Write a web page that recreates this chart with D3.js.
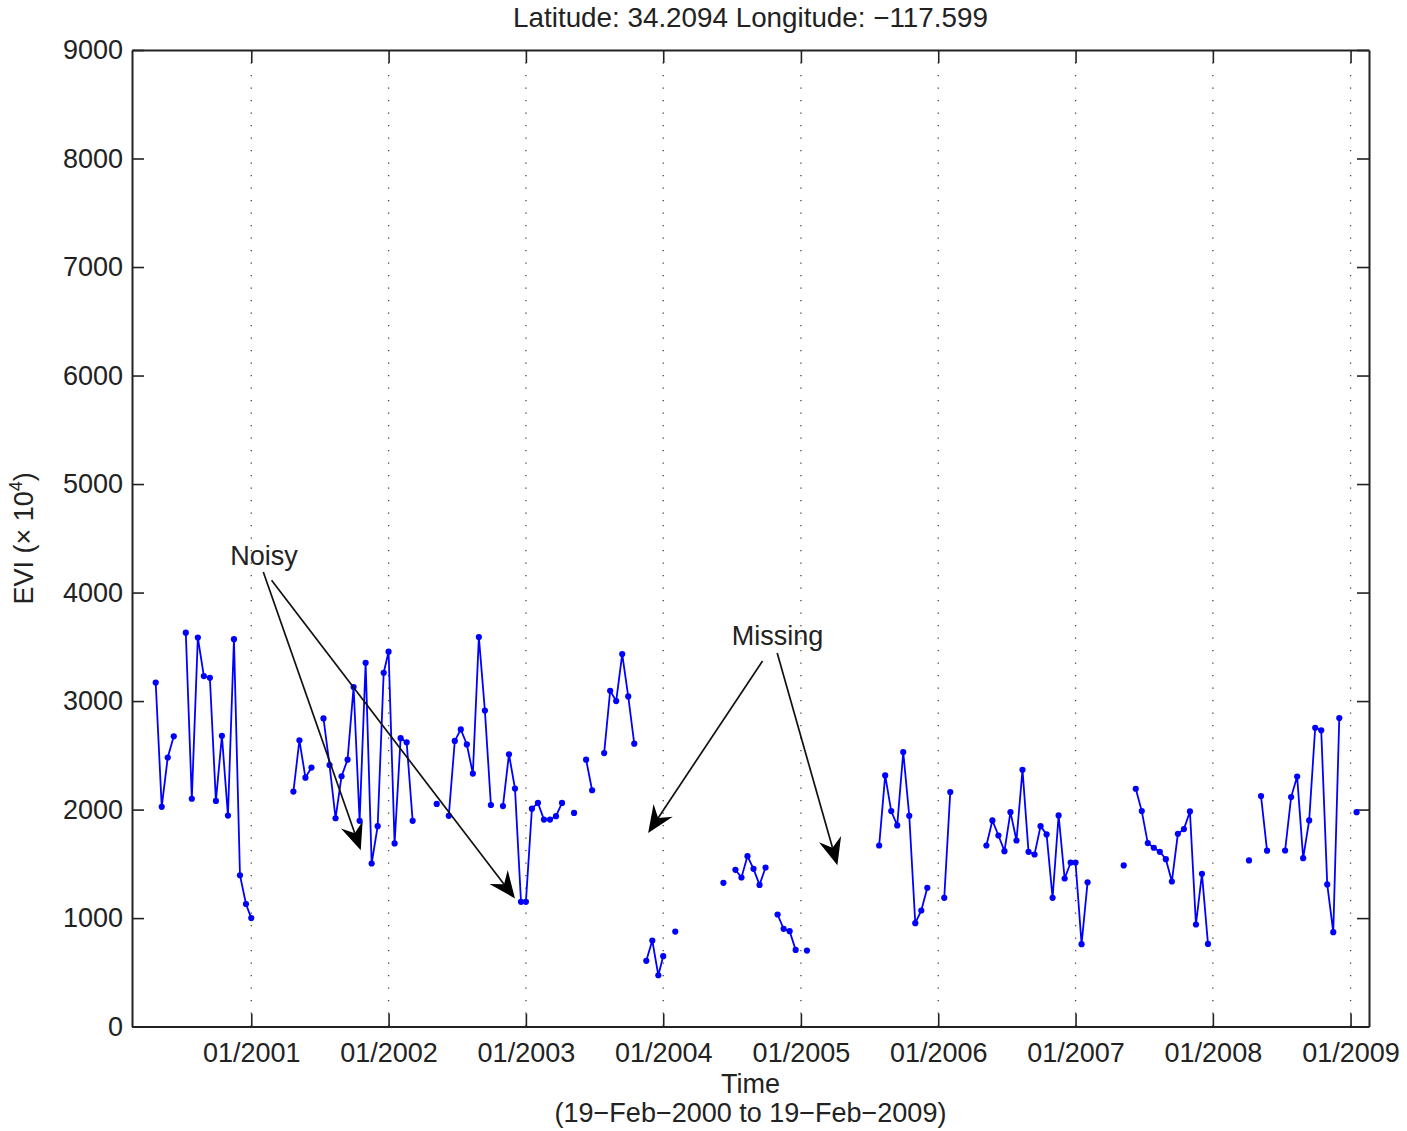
<!DOCTYPE html>
<html>
<head>
<meta charset="utf-8">
<script src="https://cdn.jsdelivr.net/npm/d3@7"></script>
<style>
  body { margin: 0; background: #fff; }
  svg text { font-family: "Liberation Sans", Arial, Helvetica, sans-serif; fill: #222; }
</style>
</head>
<body>
<div id="chart"></div>
<script>
// EVI values (x 10^4), one slot per 16-day MODIS composite (DOY 1, 17, 33, ... 353); null = missing
const evi2000 = [null, null, null, null, null, null, null, 3170, 2025, 2480, 2675, null, 3630, 2100, 3585, 3230, 3215, 2080, 2680, 1945, 3570, 1395, 1130];
const evi2001 = [1000, null, null, null, null, null, null, 2166, 2638, 2294, 2387, null, 2840, 2411, 1920, 2307, 2460, 3129, 1896, 3353, 1503, 1847, 3261];
const evi2002 = [3455, 1688, 2658, 2620, 1896, null, null, null, 2052, null, 1942, 2633, 2739, 2600, 2332, 3590, 2912, 2042, null, 2032, 2510, 2194, 1150];
const evi2003 = [1150, 2008, 2061, 1908, 1908, 1939, 2061, null, 1969, null, 2460, 2178, null, 2521, 3095, 3000, 3433, 3043, 2607, null, 606, 793, 473];
const evi2004 = [649, null, 876, null, null, null, null, null, null, null, 1325, null, 1445, 1374, 1571, 1454, 1306, 1466, null, 1033, 901, 879, 707];
const evi2005 = [null, 701, null, null, null, null, null, null, null, null, null, null, null, 1669, 2315, 1986, 1854, 2530, 1943, 953, 1070, 1279, null];
const evi2006 = [null, 1187, 2161, null, null, null, null, null, 1669, 1900, 1761, 1617, 1976, 1715, 2367, 1611, 1586, 1847, 1771, 1187, 1946, 1365, 1512];
const evi2007 = [1512, 760, 1330, null, null, null, null, null, 1485, null, 2192, 1986, 1691, 1648, 1611, 1543, 1337, 1777, 1820, 1983, 941, 1408, 762];
const evi2008 = [null, null, null, null, null, null, 1531, null, 2124, 1621, null, null, 1623, 2115, 2305, 1552, 1900, 2754, 2730, 1310, 870, 2843, null];
const evi2009 = [null, 1976, null];

const years = [2000, 2001, 2002, 2003, 2004, 2005, 2006, 2007, 2008, 2009];
const yearTicks = [2001, 2002, 2003, 2004, 2005, 2006, 2007, 2008, 2009];
const yTicks = [0, 1000, 2000, 3000, 4000, 5000, 6000, 7000, 8000, 9000];

const titleText = "Latitude: 34.2094 Longitude: \u2212117.599";
const xLabel = "Time";
const xSubLabel = "(19\u2212Feb\u22122000 to 19\u2212Feb\u22122009)";

// annotation text and arrows, in data units
const labels = [
  { text: "Noisy", date: "2001-02-04", value: 4250 },
  { text: "Missing", date: "2004-10-31", value: 3514 }
];
const arrows = [
  { from: ["2001-02-02", 4189], to: ["2001-10-19", 1626] },
  { from: ["2001-02-24", 4113], to: ["2002-12-03", 1181] },
  { from: ["2004-09-21", 3369], to: ["2003-11-22", 1785] },
  { from: ["2004-10-30", 3443], to: ["2005-04-08", 1488] }
];

const width = 1407;
const height = 1131;
const margin = { top: 50, right: 38, bottom: 104.4, left: 132 };

const parse = d3.timeParse("%Y-%m-%d");
const start = new Date(2000, 1, 19);
const end = new Date(2009, 1, 19);

const svg = d3.select("#chart").append("svg")
  .attr("width", width)
  .attr("height", height);

const x = d3.scaleTime()
  .domain([start, end])
  .range([margin.left, width - margin.right]);

const y = d3.scaleLinear()
  .domain([0, 9000])
  .range([height - margin.bottom, margin.top]);

// build the series from the yearly slot arrays
const byYear = [evi2000, evi2001, evi2002, evi2003, evi2004, evi2005, evi2006, evi2007, evi2008, evi2009];
const series = [];
years.forEach((yr, k) => {
  byYear[k].forEach((v, i) => {
    const date = new Date(yr, 0, 1 + 16 * i);
    if (date >= start && date <= end) series.push({ date: date, v: v });
  });
});

const fontSize = 27;
const tickDates = yearTicks.map(yr => new Date(yr, 0, 1));

// vertical dotted grid
svg.append("g")
  .selectAll("line")
  .data(tickDates)
  .join("line")
  .attr("x1", d => x(d)).attr("x2", d => x(d))
  .attr("y1", y(9000)).attr("y2", y(0))
  .attr("stroke", "#444")
  .attr("stroke-width", 1.3)
  .attr("stroke-dasharray", "1.3,11.2");

function styleAxis(g) {
  g.select(".domain").attr("stroke", "#222").attr("stroke-width", 2);
  g.selectAll(".tick line").attr("stroke", "#222").attr("stroke-width", 1.6);
  g.selectAll(".tick text").attr("font-size", fontSize).attr("fill", "#222");
}

svg.append("g")
  .attr("transform", `translate(0,${y(0)})`)
  .call(d3.axisBottom(x).tickValues(tickDates).tickFormat(d3.timeFormat("%m/%Y"))
    .tickSize(-13).tickSizeOuter(0).tickPadding(16))
  .call(styleAxis);

svg.append("g")
  .attr("transform", `translate(0,${y(9000)})`)
  .call(d3.axisTop(x).tickValues(tickDates).tickFormat("").tickSize(-13).tickSizeOuter(0))
  .call(styleAxis);

svg.append("g")
  .attr("transform", `translate(${x(start)},0)`)
  .call(d3.axisLeft(y).tickValues(yTicks).tickFormat(d3.format("d"))
    .tickSize(-12).tickSizeOuter(0).tickPadding(9))
  .call(styleAxis);

svg.append("g")
  .attr("transform", `translate(${x(end)},0)`)
  .call(d3.axisRight(y).tickValues(yTicks).tickFormat("").tickSize(-12).tickSizeOuter(0))
  .call(styleAxis);

// EVI line with gaps, plus point markers
const line = d3.line()
  .defined(d => d.v != null)
  .x(d => x(d.date))
  .y(d => y(d.v));

svg.append("path")
  .datum(series)
  .attr("fill", "none")
  .attr("stroke", "#0000ff")
  .attr("stroke-width", 1.8)
  .attr("d", line);

svg.append("g")
  .selectAll("circle")
  .data(series.filter(d => d.v != null))
  .join("circle")
  .attr("cx", d => x(d.date))
  .attr("cy", d => y(d.v))
  .attr("r", 3.1)
  .attr("fill", "#0000ff");

// annotations
svg.append("g")
  .selectAll("text")
  .data(labels)
  .join("text")
  .attr("x", d => x(parse(d.date)))
  .attr("y", d => y(d.value))
  .attr("text-anchor", "middle")
  .attr("font-size", fontSize)
  .text(d => d.text);

const headLen = 27, headHalf = 11.5, notch = 18;
const ag = svg.append("g");
arrows.forEach(a => {
  const x1 = x(parse(a.from[0])), y1 = y(a.from[1]);
  const x2 = x(parse(a.to[0])), y2 = y(a.to[1]);
  const len = Math.hypot(x2 - x1, y2 - y1);
  const ux = (x2 - x1) / len, uy = (y2 - y1) / len;
  const px = -uy, py = ux;
  ag.append("line")
    .attr("x1", x1).attr("y1", y1)
    .attr("x2", x2 - ux * notch).attr("y2", y2 - uy * notch)
    .attr("stroke", "#111").attr("stroke-width", 1.7);
  const pts = [
    [x2, y2],
    [x2 - ux * headLen + px * headHalf, y2 - uy * headLen + py * headHalf],
    [x2 - ux * notch, y2 - uy * notch],
    [x2 - ux * headLen - px * headHalf, y2 - uy * headLen - py * headHalf]
  ];
  ag.append("polygon")
    .attr("points", pts.map(p => p.join(",")).join(" "))
    .attr("fill", "#000");
});

// title and axis labels
svg.append("text")
  .attr("x", (x(start) + x(end)) / 2)
  .attr("y", 27)
  .attr("text-anchor", "middle")
  .attr("font-size", 27.8)
  .text(titleText);

svg.append("text")
  .attr("x", (x(start) + x(end)) / 2)
  .attr("y", 1093)
  .attr("text-anchor", "middle")
  .attr("font-size", fontSize)
  .text(xLabel);

svg.append("text")
  .attr("x", (x(start) + x(end)) / 2)
  .attr("y", 1122)
  .attr("text-anchor", "middle")
  .attr("font-size", fontSize)
  .text(xSubLabel);

const yl = svg.append("text")
  .attr("transform", `translate(33,${(y(0) + y(9000)) / 2}) rotate(-90)`)
  .attr("text-anchor", "middle")
  .attr("font-size", fontSize);
yl.append("tspan").text("EVI (\u00d7 10");
yl.append("tspan").attr("font-size", 18).attr("dy", -11).text("4");
yl.append("tspan").attr("dy", 11).text(")");
</script>
</body>
</html>
